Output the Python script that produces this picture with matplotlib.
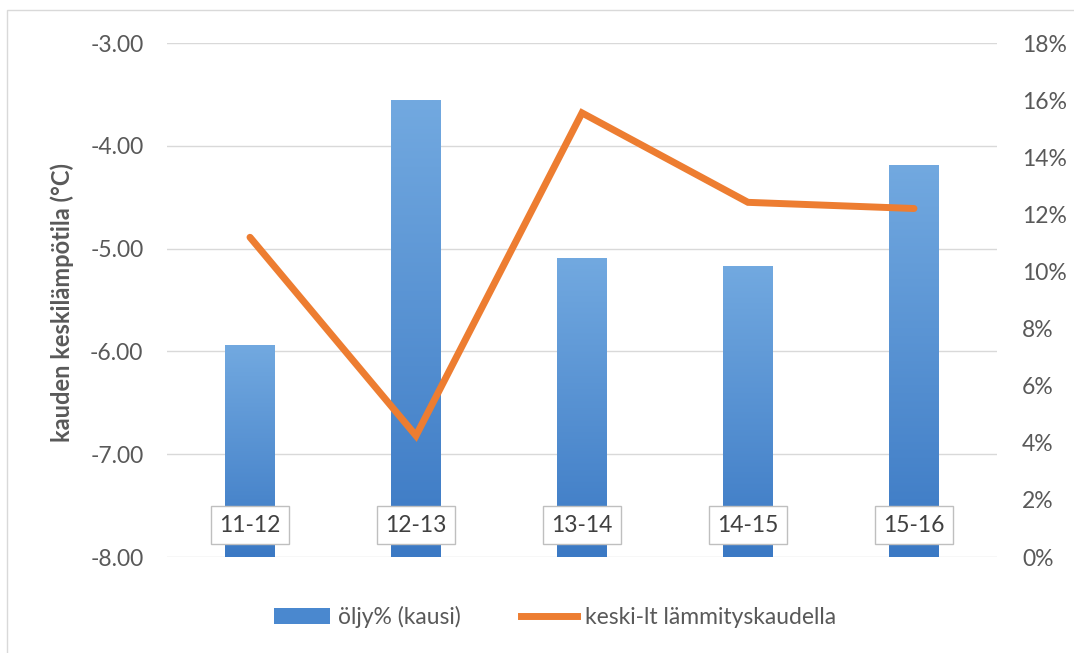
import numpy as np
import matplotlib
matplotlib.use("Agg")
import matplotlib.pyplot as plt
from matplotlib.patches import Rectangle
from matplotlib.lines import Line2D
from matplotlib.ticker import FuncFormatter

plt.rcParams['font.family'] = ['Lato', 'DejaVu Sans']

# kaudet ja arvot
kaudet = ['11-12', '12-13', '13-14', '14-15', '15-16']
oljy_pros = [7.42, 16.0, 10.47, 10.19, 13.73]          # öljy% (kausi)
keski_lt = [-4.89, -6.82, -3.68, -4.55, -4.61]         # keski-lt lämmityskaudella
lampo_ticks = [-3.0, -4.0, -5.0, -6.0, -7.0, -8.0]
pros_ticks = [0, 2, 4, 6, 8, 10, 12, 14, 16, 18]

teksti = '#595959'
oranssi = '#ED7D31'
sin_yla = np.array([0x72, 0xa9, 0xe0]) / 255
sin_ala = np.array([0x3b, 0x79, 0xc4]) / 255

fig = plt.figure(figsize=(10.74, 6.53), dpi=100)
W, H = 1074, 653
ax = fig.add_axes([167 / W, 1 - 557 / H, 830 / W, 514 / H])

# vasen akseli: lämpötila + ruudukko
ax.set_ylim(-8, -3)
ax.set_xlim(-0.5, len(kaudet) - 0.5)
ax.set_yticks(lampo_ticks)
ax.yaxis.set_major_formatter(FuncFormatter(lambda v, p: f'{v:.2f}'))
ax.tick_params(axis='y', length=0, pad=17, labelsize=16.5, labelcolor=teksti)
ax.set_xticks([])
ax.grid(axis='y', color='#d9d9d9', lw=1)
ax.set_axisbelow(True)
for s in ax.spines.values():
    s.set_visible(False)

# oikea akseli: öljy-% pylväät liukuvärillä
ax2 = ax.twinx()
ax2.set_ylim(0, 18)
ax2.set_yticks(pros_ticks)
ax2.yaxis.set_major_formatter(FuncFormatter(lambda v, p: f'{v:.0f}%'))
ax2.tick_params(axis='y', length=0, pad=18, labelsize=16.5, labelcolor=teksti)
for s in ax2.spines.values():
    s.set_visible(False)

x = np.arange(len(kaudet))
bars = ax2.bar(x, oljy_pros, width=0.30, color=(sin_yla + sin_ala) / 2, lw=0)
grad = np.linspace(0, 1, 256)[:, None, None]
grad_img = sin_ala * (1 - grad) + sin_yla * grad
for b in bars:
    bx, bw, bh = b.get_x(), b.get_width(), b.get_height()
    im = ax2.imshow(grad_img, extent=[bx, bx + bw, 0, bh], origin='lower',
                    aspect='auto', interpolation='bilinear', zorder=2)
    im.set_clip_path(b)
ax2.set_xlim(-0.5, len(kaudet) - 0.5)
ax2.set_ylim(0, 18)

# viiva omalle akselille pylväiden päälle
ax3 = ax.twinx()
ax3.set_ylim(-8, -3)
ax3.set_xlim(-0.5, len(kaudet) - 0.5)
ax3.axis('off')
ax3.plot(x, keski_lt, color=oranssi, lw=5, solid_capstyle='round',
         solid_joinstyle='miter')

# kausien nimet laatikoissa
for i, k in enumerate(kaudet):
    ax3.text(i, -7.69, k, ha='center', va='center', fontsize=16.5, color='#404040',
             bbox=dict(boxstyle='square,pad=0.38', fc='white', ec='#bfbfbf', lw=1),
             zorder=5)

fig.text(62 / W, 1 - 302 / H, 'kauden keskilämpötila (°C)', rotation=90,
         ha='center', va='center', fontsize=17, fontweight='bold', color=teksti)

handles = [Rectangle((0, 0), 1, 1, fc='#4a88cf', lw=0),
           Line2D([0], [0], color=oranssi, lw=5)]
fig.legend(handles, ['öljy% (kausi)', 'keski-lt lämmityskaudella'],
           loc='center', bbox_to_anchor=(555 / W, 1 - 617 / H), ncol=2,
           frameon=False, fontsize=16.5, labelcolor=teksti,
           handlelength=2.45, handleheight=0.65, columnspacing=2.6,
           handletextpad=0.35)

# kehys
fig.patches.append(Rectangle((7 / W, -0.05), 1.1, 1 - 10 / H + 0.05,
                             transform=fig.transFigure, fill=False,
                             ec='#d9d9d9', lw=1))

fig.savefig('out.png', dpi=100)
